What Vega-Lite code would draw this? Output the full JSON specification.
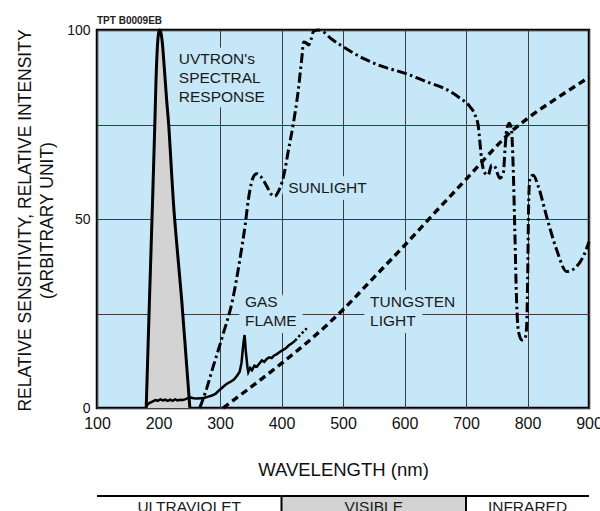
{
  "$schema": "https://vega.github.io/schema/vega-lite/v6.json",
  "autosize": {"type": "none"},
  "width": 492,
  "height": 378,
  "padding": {"left": 97, "top": 30, "right": 11, "bottom": 103},
  "background": "white",
  "title": {
    "text": "TPT B0009EB",
    "anchor": "start",
    "frame": "group",
    "font": "Liberation Sans",
    "fontSize": 10,
    "fontWeight": "bold",
    "color": "#222222",
    "offset": 2,
    "dy": 5
  },
  "config": {
    "font": "Liberation Sans",
    "view": {"fill": "#c6e7f8", "stroke": "#000000", "strokeWidth": 2.5},
    "axis": {
      "domain": false,
      "ticks": false,
      "tickSize": 0,
      "grid": true,
      "gridColor": "#3c3c3c",
      "gridWidth": 1,
      "gridOpacity": 1,
      "labelColor": "#111111",
      "titleColor": "#111111",
      "titleFontWeight": "normal",
      "labelFont": "Liberation Sans",
      "titleFont": "Liberation Sans",
      "labelFlush": false
    }
  },
  "datasets": {
    "uvtron": [
      {"nm": 180, "value": 0}, {"nm": 185, "value": 27}, {"nm": 190, "value": 53},
      {"nm": 194, "value": 75}, {"nm": 196, "value": 87}, {"nm": 198, "value": 95},
      {"nm": 200, "value": 99}, {"nm": 202, "value": 100}, {"nm": 204, "value": 99.2},
      {"nm": 206, "value": 97}, {"nm": 209, "value": 91}, {"nm": 213, "value": 82},
      {"nm": 217, "value": 74}, {"nm": 221, "value": 63}, {"nm": 224, "value": 55},
      {"nm": 231, "value": 41}, {"nm": 238, "value": 28}, {"nm": 245, "value": 13},
      {"nm": 251, "value": 0}
    ],
    "sunlight": [
      {"nm": 267, "value": 0}, {"nm": 278, "value": 5}, {"nm": 289, "value": 11},
      {"nm": 305, "value": 19.5}, {"nm": 321, "value": 29}, {"nm": 333, "value": 40},
      {"nm": 341, "value": 48.5}, {"nm": 346, "value": 55}, {"nm": 351, "value": 59.5},
      {"nm": 356, "value": 61.6}, {"nm": 360, "value": 62}, {"nm": 366, "value": 61.3},
      {"nm": 375, "value": 59}, {"nm": 383, "value": 56.6}, {"nm": 389, "value": 56},
      {"nm": 395, "value": 57.3}, {"nm": 403, "value": 61}, {"nm": 411, "value": 68},
      {"nm": 419, "value": 75}, {"nm": 427, "value": 83.7}, {"nm": 433, "value": 92.5},
      {"nm": 436, "value": 96.8}, {"nm": 440, "value": 96.6}, {"nm": 444, "value": 96},
      {"nm": 448, "value": 97.5}, {"nm": 452, "value": 99.6}, {"nm": 460, "value": 100},
      {"nm": 468, "value": 99.5}, {"nm": 480, "value": 97.8}, {"nm": 500, "value": 95.6},
      {"nm": 533, "value": 92.5}, {"nm": 565, "value": 90.3}, {"nm": 600, "value": 88.6},
      {"nm": 641, "value": 86}, {"nm": 663, "value": 84.7}, {"nm": 690, "value": 82},
      {"nm": 706, "value": 79.8}, {"nm": 714.6, "value": 77.6}, {"nm": 720, "value": 74.5},
      {"nm": 722.8, "value": 70}, {"nm": 725.5, "value": 65.6}, {"nm": 731, "value": 62.1},
      {"nm": 736, "value": 61.6}, {"nm": 741.7, "value": 64.3}, {"nm": 747, "value": 63.8},
      {"nm": 755, "value": 60.8}, {"nm": 760.6, "value": 62.1}, {"nm": 763.4, "value": 68.3},
      {"nm": 766, "value": 73.5}, {"nm": 770.4, "value": 75.3}, {"nm": 774, "value": 73.5},
      {"nm": 776.7, "value": 63.8}, {"nm": 779.5, "value": 46.2}, {"nm": 782.2, "value": 28.6},
      {"nm": 785, "value": 20.6}, {"nm": 790.5, "value": 18}, {"nm": 796, "value": 18.4},
      {"nm": 798.6, "value": 21.5}, {"nm": 800.5, "value": 37}, {"nm": 802, "value": 55},
      {"nm": 804, "value": 60.8}, {"nm": 809.4, "value": 61.6}, {"nm": 817.6, "value": 58.6},
      {"nm": 831, "value": 50.7}, {"nm": 847.5, "value": 41.8}, {"nm": 863.7, "value": 36.1},
      {"nm": 877, "value": 37}, {"nm": 890.7, "value": 40.1}, {"nm": 900, "value": 44}
    ],
    "tungsten": [
      {"nm": 305, "value": 0}, {"nm": 350, "value": 5.5}, {"nm": 400, "value": 11.8},
      {"nm": 450, "value": 18.5}, {"nm": 500, "value": 26}, {"nm": 550, "value": 34.5},
      {"nm": 600, "value": 43}, {"nm": 650, "value": 51.8}, {"nm": 700, "value": 60.5},
      {"nm": 740, "value": 67.6}, {"nm": 770, "value": 72.6}, {"nm": 800, "value": 76.6},
      {"nm": 850, "value": 82.2}, {"nm": 900, "value": 87.5}
    ],
    "gasflame": [
      {"nm": 180, "value": 0.6}, {"nm": 185, "value": 1.3}, {"nm": 190, "value": 1.7},
      {"nm": 195, "value": 2.1}, {"nm": 199, "value": 1.9}, {"nm": 203, "value": 2.3},
      {"nm": 207, "value": 2.0}, {"nm": 211, "value": 2.2}, {"nm": 215, "value": 1.9},
      {"nm": 219, "value": 2.2}, {"nm": 223, "value": 1.9}, {"nm": 227, "value": 2.3},
      {"nm": 231, "value": 2.0}, {"nm": 235, "value": 2.2}, {"nm": 240, "value": 2.1},
      {"nm": 245, "value": 2.4}, {"nm": 251, "value": 2.8}, {"nm": 257, "value": 2.6},
      {"nm": 263, "value": 2.5}, {"nm": 269, "value": 2.6}, {"nm": 275, "value": 2.7},
      {"nm": 281, "value": 3.0}, {"nm": 287, "value": 3.3}, {"nm": 293, "value": 3.8},
      {"nm": 298, "value": 4.6}, {"nm": 303, "value": 5.3}, {"nm": 308, "value": 6.0},
      {"nm": 313, "value": 6.6}, {"nm": 318, "value": 7.0}, {"nm": 323, "value": 7.6},
      {"nm": 328, "value": 8.6}, {"nm": 332, "value": 9.6}, {"nm": 335, "value": 12},
      {"nm": 338, "value": 17}, {"nm": 340, "value": 19.3}, {"nm": 342, "value": 15},
      {"nm": 344.5, "value": 11}, {"nm": 346, "value": 9.5}, {"nm": 349, "value": 10.6},
      {"nm": 352, "value": 10.0}, {"nm": 356, "value": 11.2}, {"nm": 360, "value": 10.9},
      {"nm": 364, "value": 11.8}, {"nm": 368, "value": 12.6}, {"nm": 372, "value": 12.2},
      {"nm": 376, "value": 13.0}, {"nm": 380, "value": 13.4}, {"nm": 384, "value": 13.2},
      {"nm": 388, "value": 13.9}, {"nm": 392, "value": 14.2}, {"nm": 397, "value": 14.8},
      {"nm": 402, "value": 15.3}, {"nm": 407, "value": 15.8}, {"nm": 412, "value": 16.6},
      {"nm": 417, "value": 17.1}, {"nm": 422, "value": 17.8}, {"nm": 427, "value": 18.7},
      {"nm": 432, "value": 19.6}, {"nm": 437, "value": 20.4}, {"nm": 441, "value": 21.1}
    ],
    "labels": [
      {"label": "UVTRON's\nSPECTRAL\nRESPONSE", "nm": 233, "value": 90.9},
      {"label": "SUNLIGHT", "nm": 411, "value": 57},
      {"label": "GAS\nFLAME", "nm": 340.6, "value": 26.8},
      {"label": "TUNGSTEN\nLIGHT", "nm": 544, "value": 26.6}
    ],
    "regions": [
      {"region": "ULTRAVIOLET", "from": 100, "to": 400, "mid": 250},
      {"region": "VISIBLE", "from": 400, "to": 700, "mid": 550},
      {"region": "INFRARED", "from": 700, "to": 900, "mid": 800}
    ]
  },
  "encoding": {
    "x": {
      "field": "nm",
      "type": "quantitative",
      "title": "WAVELENGTH (nm)",
      "scale": {"domain": [100, 900], "nice": false, "zero": false},
      "axis": {
        "values": [100, 200, 300, 400, 500, 600, 700, 800, 900],
        "labelFontSize": 16,
        "labelPadding": 7,
        "labelFlush": false,
        "titleFontSize": 18.5,
        "titleBaseline": "alphabetic",
        "titleY": 67
      }
    }
  },
  "layer": [
    {
      "encoding": {
        "y": {
          "field": "value",
          "type": "quantitative",
          "title": ["RELATIVE SENSITIVITY, RELATIVE INTENSITY", "(ARBITRARY UNIT)"],
          "scale": {"domain": [0, 100], "nice": false},
          "axis": {
            "values": [0, 25, 50, 75, 100],
            "labelExpr": "datum.value % 50 === 0 ? datum.label : ''",
            "labelFontSize": 14,
            "labelPadding": 7,
            "titleFontSize": 17.5,
            "titleLineHeight": 22,
            "titleBaseline": "alphabetic",
            "titleAlign": "center",
            "titleAngle": -90,
            "titleX": -67,
            "titleY": 190
          }
        }
      },
      "layer": [
        {
          "data": {"name": "labels"},
          "mark": {"type": "text", "align": "left", "baseline": "alphabetic", "fontSize": 15.5, "lineHeight": 19, "lineBreak": "\n", "stroke": "#c6e7f8", "strokeWidth": 14, "strokeJoin": "round", "fill": "#c6e7f8"},
          "encoding": {"text": {"field": "label"}}
        },
        {
          "data": {"name": "uvtron"},
          "mark": {"type": "area", "interpolate": "monotone", "fill": "#d3d3d3", "opacity": 1}
        },
        {
          "data": {"name": "uvtron"},
          "mark": {"type": "line", "interpolate": "monotone", "color": "#000000", "strokeWidth": 3}
        },
        {
          "data": {"name": "tungsten"},
          "mark": {"type": "line", "interpolate": "monotone", "color": "#000000", "strokeWidth": 3.4, "strokeDash": [7, 4.5]}
        },
        {
          "data": {"name": "gasflame"},
          "transform": [{"filter": "datum.nm <= 422"}],
          "mark": {"type": "line", "color": "#000000", "strokeWidth": 2.5}
        },
        {
          "data": {"name": "gasflame"},
          "transform": [{"filter": "datum.nm >= 422"}],
          "mark": {"type": "line", "color": "#000000", "strokeWidth": 2.5, "strokeDash": [2.5, 2.5]}
        },
        {
          "data": {"name": "sunlight"},
          "mark": {"type": "line", "interpolate": "monotone", "color": "#000000", "strokeWidth": 3, "strokeDash": [10, 3.5, 2.5, 3.5]}
        },
        {
          "data": {"name": "labels"},
          "mark": {"type": "text", "align": "left", "baseline": "alphabetic", "fontSize": 15.5, "lineHeight": 19, "lineBreak": "\n", "color": "#1a1a1a"},
          "encoding": {"text": {"field": "label"}}
        }
      ]
    },
    {
      "data": {"name": "regions"},
      "transform": [{"filter": "datum.region === 'VISIBLE'"}],
      "mark": {"type": "rect", "fill": "#d3d3d3", "clip": false},
      "encoding": {
        "x": {"field": "from", "type": "quantitative"},
        "x2": {"field": "to"},
        "y": {"datum": -23.3, "type": "quantitative", "title": ["RELATIVE SENSITIVITY, RELATIVE INTENSITY", "(ARBITRARY UNIT)"]},
        "y2": {"datum": -40}
      }
    },
    {
      "data": {"name": "regions"},
      "transform": [{"filter": "datum.from > 100"}],
      "mark": {"type": "rule", "color": "#000000", "strokeWidth": 2, "clip": false},
      "encoding": {
        "x": {"field": "from", "type": "quantitative"},
        "y": {"datum": -23.3, "type": "quantitative", "title": ["RELATIVE SENSITIVITY, RELATIVE INTENSITY", "(ARBITRARY UNIT)"]},
        "y2": {"datum": -40}
      }
    },
    {
      "data": {"name": "regions"},
      "mark": {"type": "rule", "color": "#000000", "strokeWidth": 2, "clip": false},
      "encoding": {
        "x": {"field": "from", "type": "quantitative"},
        "x2": {"field": "to"},
        "y": {"datum": -23.3, "type": "quantitative", "title": ["RELATIVE SENSITIVITY, RELATIVE INTENSITY", "(ARBITRARY UNIT)"]}
      }
    },
    {
      "data": {"name": "regions"},
      "mark": {"type": "text", "align": "center", "baseline": "alphabetic", "fontSize": 15.5, "color": "#1a1a1a", "clip": false},
      "encoding": {
        "x": {"field": "mid", "type": "quantitative"},
        "y": {"datum": -27.6, "type": "quantitative", "title": ["RELATIVE SENSITIVITY, RELATIVE INTENSITY", "(ARBITRARY UNIT)"]},
        "text": {"field": "region"}
      }
    }
  ]
}
